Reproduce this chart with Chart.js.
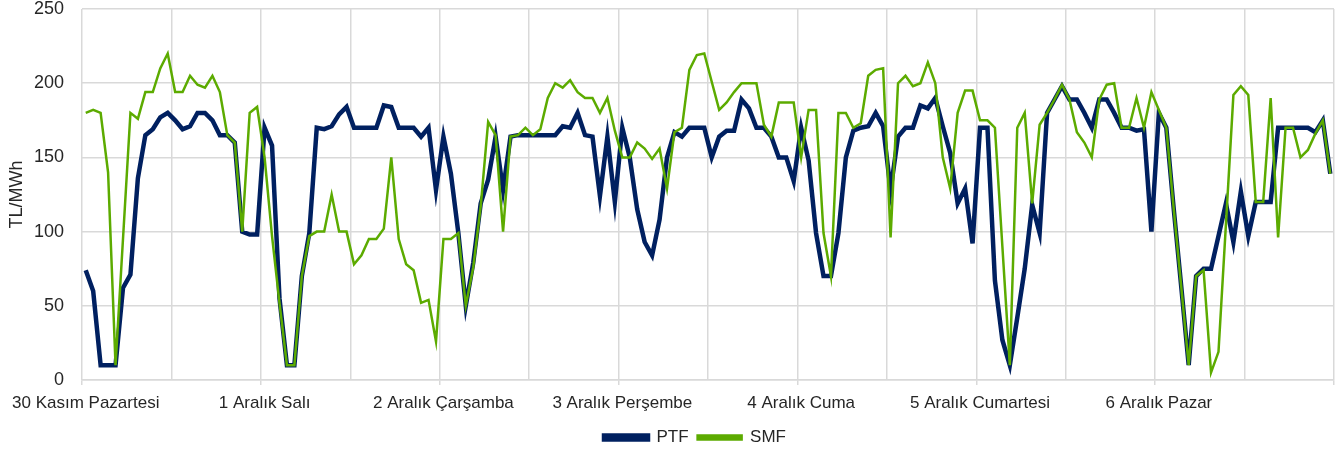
<!DOCTYPE html>
<html>
<head>
<meta charset="utf-8">
<script src="https://cdn.jsdelivr.net/npm/chart.js@4.4.1/dist/chart.umd.min.js"></script>
<style>
  html, body { margin: 0; padding: 0; background: #fff; }
  #wrap { width: 1339px; height: 456px; position: relative; }
</style>
</head>
<body>
<div id="wrap"><canvas id="myChart"></canvas></div>
<script>
// gün etiketleri (her gün 24 saat)
var days = ['30 Kasım Pazartesi', '1 Aralık Salı', '2 Aralık Çarşamba', '3 Aralık Perşembe',
            '4 Aralık Cuma', '5 Aralık Cumartesi', '6 Aralık Pazar'];

// PTF saatlik, TL/MWh
var ptf = [
  74, 60, 10, 10, 10, 62, 71, 136, 165, 169, 177, 180, 175, 169, 171, 180, 180, 175, 165, 165, 160, 100, 98, 98,
  170, 158, 55, 10, 10, 70, 99, 170, 169, 171, 179, 184, 170, 170, 170, 170, 185, 184, 170, 170, 170, 164, 170, 128,
  164, 139, 99, 50, 79, 119, 135, 164, 128, 164, 165, 165, 165, 165, 165, 165, 171, 170, 180, 165, 164, 124, 164, 120,
  170, 150, 115, 93, 84, 108, 150, 167, 164, 170, 170, 170, 150, 164, 168, 168, 189, 183, 170, 170, 164, 150, 150, 134,
  170, 148, 99, 70, 70, 99, 150, 168, 170, 171, 180, 171, 128, 164, 170, 170, 185, 183, 190, 171, 153, 119, 129, 92,
  170, 170, 67, 27, 10, 42, 75, 118, 99, 180, 189, 198, 189, 189, 180, 170, 189, 189, 180, 170, 170, 168, 169, 100,
  180, 170, 115, 63, 10, 70, 75, 75, 97, 119, 93, 127, 97, 120, 120, 120, 170, 170, 170, 170, 170, 167, 175, 139
];

// SMF saatlik, TL/MWh
var smf = [
  180, 182, 180, 140, 10, 95, 180, 176, 194, 194, 210, 220, 194, 194, 205, 199, 197, 205, 194, 165, 160, 100, 180, 184,
  150, 97, 52, 10, 10, 70, 97, 100, 100, 125, 100, 100, 78, 84, 95, 95, 102, 150, 95, 78, 74, 52, 54, 26,
  95, 95, 99, 50, 76, 117, 174, 165, 100, 164, 165, 170, 165, 169, 190, 200, 197, 202, 194, 190, 190, 180, 190, 168,
  150, 150, 160, 156, 149, 156, 129, 167, 170, 209, 219, 220, 201, 182, 187, 194, 200, 200, 200, 172, 164, 187, 187, 187,
  150, 182, 182, 99, 70, 180, 180, 170, 173, 205, 209, 210, 96, 200, 205, 198, 200, 214, 200, 150, 129, 180, 195, 195,
  175, 175, 170, 90, 10, 170, 180, 119, 172, 180, 189, 199, 189, 167, 160, 150, 189, 199, 200, 170, 170, 190, 170, 194,
  182, 170, 115, 63, 10, 70, 74, 5, 19, 105, 192, 198, 192, 120, 120, 190, 96, 170, 170, 150, 155, 166, 175, 139
];

var labels = [];
days.forEach(function (d) {
  for (var h = 0; h < 24; h++) labels.push(d + ' ' + (h < 10 ? '0' : '') + h + ':00');
});

var gridColor = '#d9d9d9';
var textColor = '#262626';
var fontName = "'Liberation Sans', Arial, sans-serif";

// legend sits a bit right of the canvas centre in the original
var legendShift = {
  id: 'legendShift',
  afterLayout: function (chart) {
    chart.legend.left += 28;
    chart.legend.right += 28;
  }
};

var myChart = new Chart(document.getElementById('myChart'), {
  type: 'line',
  data: {
    labels: labels,
    datasets: [{
      label: 'PTF', data: ptf, borderColor: '#002060', backgroundColor: '#002060',
      borderWidth: 4.5, pointRadius: 0, tension: 0, order: 2
    }, {
      label: 'SMF', data: smf, borderColor: '#5cab00', backgroundColor: '#5cab00',
      borderWidth: 2.5, pointRadius: 0, tension: 0, order: 1
    }]
  },
  plugins: [legendShift],
  options: {
    responsive: true,
    maintainAspectRatio: false,
    animation: false,
    events: [],
    layout: { padding: { left: 0, right: 5, top: 0, bottom: 0 } },
    plugins: {
      tooltip: { enabled: false },
      legend: {
        position: 'bottom',
        labels: {
          boxWidth: 44, boxHeight: 4, padding: 9, color: textColor,
          font: { family: fontName, size: 17 },
          sort: function (a, b) { return a.datasetIndex - b.datasetIndex; }
        }
      }
    },
    scales: {
      x: {
        type: 'category',
        offset: true,
        grid: {
          offset: true,
          color: function (ctx) {
            return (ctx.index === undefined || ctx.index % 12 === 0) ? gridColor : 'rgba(0,0,0,0)';
          },
          tickColor: function (ctx) {
            return (ctx.index === undefined || ctx.index % 24 === 0) ? gridColor : 'rgba(0,0,0,0)';
          },
          tickLength: 5,
          lineWidth: 1.5
        },
        border: { display: true, color: gridColor, width: 1.5 },
        ticks: {
          autoSkip: false, maxRotation: 0, minRotation: 0, padding: 8, color: textColor,
          font: { family: fontName, size: 17 },
          callback: function (val, index) { return index % 24 === 0 ? days[index / 24] : ''; }
        },
        afterFit: function (scale) { scale.height = 40; }
      },
      y: {
        min: 0, max: 250,
        ticks: { stepSize: 50, padding: 18, color: textColor, font: { family: fontName, size: 18 } },
        grid: { color: gridColor, lineWidth: 1.5, drawTicks: false },
        border: { display: false },
        title: {
          display: true, text: 'TL/MWh', color: textColor,
          font: { family: fontName, size: 18 }, padding: { top: 6, bottom: 0 }
        },
        afterFit: function (scale) {
          scale.width = 82;
          scale.paddingTop = 9;
          scale.paddingBottom = 0;
        }
      }
    }
  }
});
</script>
</body>
</html>
